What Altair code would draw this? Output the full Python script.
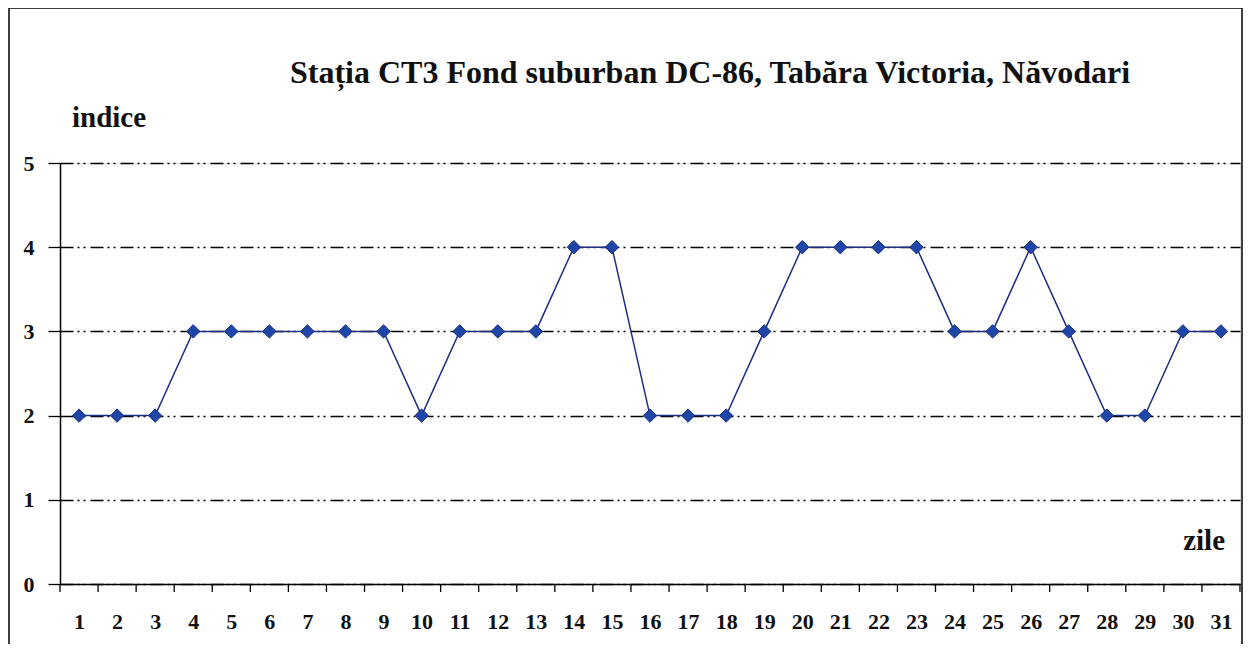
import altair as alt
import pandas as pd

days = list(range(1, 32))
indice = [2, 2, 2, 3, 3, 3, 3, 3, 3, 2, 3, 3, 3, 4, 4, 2, 2, 2, 3, 4, 4, 4, 4, 3, 3, 4, 3, 2, 2, 3, 3]
y_ticks = [0, 1, 2, 3, 4, 5]
x_boundaries = [d - 0.5 for d in days] + [31.5]

title_text = "Stația CT3 Fond suburban DC-86, Tabăra Victoria, Năvodari"
y_label = "indice"
x_label = "zile"

FONT = "Times New Roman, Liberation Serif, serif"
LINE_COLOR = "#1f2f80"
MARK_COLOR = "#1f45a8"

df = pd.DataFrame({"zi": days, "indice": indice})
ticks_df = pd.DataFrame({"b": x_boundaries})

xscale = alt.Scale(domain=[0.5, 31.5], nice=False, zero=False)
yscale = alt.Scale(domain=[0, 5], nice=False)

xaxis = alt.Axis(values=days, format="d", ticks=False, grid=False,
                 domainColor="black", domainWidth=1.5,
                 labelFont=FONT, labelFontWeight="bold", labelFontSize=22,
                 labelColor="#111111", labelPadding=27, title=None,
                 labelFlush=False, labelOverlap=False)
yaxis = alt.Axis(values=y_ticks, format="d", grid=True,
                 gridDash=[13, 4, 2, 4, 2, 5], gridColor="black", gridWidth=1.3,
                 tickSize=12, tickColor="black", tickWidth=1.3,
                 domainColor="black", domainWidth=1.5,
                 labelFont=FONT, labelFontWeight="bold", labelFontSize=22,
                 labelColor="#111111", labelPadding=14, title=None,
                 labelOverlap=False)

base = alt.Chart(df)

line = base.mark_line(color=LINE_COLOR, strokeWidth=1.5).encode(
    x=alt.X("zi:Q", scale=xscale, axis=xaxis),
    y=alt.Y("indice:Q", scale=yscale, axis=yaxis),
)

points = base.mark_point(shape="diamond", filled=True, size=180, color=MARK_COLOR,
                         stroke="#16307a", strokeWidth=1, opacity=1).encode(
    x=alt.X("zi:Q", scale=xscale, axis=xaxis),
    y=alt.Y("indice:Q", scale=yscale, axis=yaxis),
)

xticks = alt.Chart(ticks_df).mark_rule(color="black", strokeWidth=1.3).encode(
    x=alt.X("b:Q", scale=xscale, axis=xaxis),
    y=alt.value(421),
    y2=alt.value(429),
)

title = alt.Chart(pd.DataFrame({"t": [title_text]})).mark_text(
    font=FONT, fontWeight="bold", fontSize=32, align="center", baseline="alphabetic",
    color="#111111").encode(text="t:N", x=alt.value(650), y=alt.value(-80))

ylab = alt.Chart(pd.DataFrame({"t": [y_label]})).mark_text(
    font=FONT, fontWeight="bold", fontSize=29, align="left", baseline="alphabetic",
    color="#111111").encode(text="t:N", x=alt.value(12), y=alt.value(-36))

xlab = alt.Chart(pd.DataFrame({"t": [x_label]})).mark_text(
    font=FONT, fontWeight="bold", fontSize=29, align="right", baseline="alphabetic",
    color="#111111").encode(text="t:N", x=alt.value(1165), y=alt.value(387))

frame = alt.Chart(pd.DataFrame({"a": [0]})).mark_rect(
    fill=None, stroke="black", strokeWidth=1.5, clip=False).encode(
    x=alt.value(-51), x2=alt.value(1182), y=alt.value(-155), y2=alt.value(515))

chart = alt.layer(frame, line, points, xticks, title, ylab, xlab).properties(
    width=1180, height=421,
    padding={"left": 52, "top": 155, "right": 4, "bottom": 60},
    autosize=alt.AutoSizeParams(type="none"),
).configure_view(stroke=None).configure(background="white")

chart.save("out.html", embed_options={"renderer": "svg", "actions": False})
